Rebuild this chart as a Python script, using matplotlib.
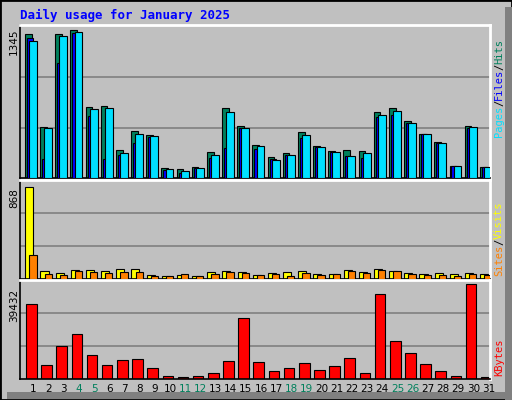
import matplotlib
matplotlib.use("Agg")
import matplotlib.pyplot as plt
from matplotlib.patches import Rectangle
import numpy as np

days = list(range(1, 32))
hits  = [1280,455,1280,1315,634,643,248,419,383,87,78,99,230,625,463,293,189,224,404,287,242,251,242,583,619,502,395,323,108,466,99]
files = [1240,173,1025,1290,553,173,206,314,368,75,42,90,177,269,440,257,168,204,359,272,227,197,177,538,562,484,392,311,105,448,96]
pages = [1220,440,1264,1300,610,625,224,395,374,78,60,87,204,589,445,284,159,204,383,275,230,194,221,562,598,490,392,311,105,457,96]
visits = [868,72,53,88,88,72,97,97,34,31,34,31,63,72,63,41,53,63,78,44,44,81,63,97,78,53,44,53,44,53,44]
sites  = [222,50,41,72,63,53,63,63,31,31,44,31,44,69,56,41,44,31,53,34,44,75,53,81,72,44,34,34,25,44,34]
kbytes = [31230,5760,13530,18710,10070,5760,7910,8350,4460,1440,720,1440,2300,7480,25180,7050,3170,4460,6620,3600,5320,8780,2300,35110,15690,10940,6190,3170,1440,39432,1010]
weekend = [4,5,11,12,18,19,25,26]
title = "Daily usage for January 2025"
max_hits, max_visits, max_kb = 1345, 868, 39432

BG = "#C0C0C0"
fig = plt.figure(figsize=(5.12, 4.0), dpi=100, facecolor=BG)
# frame & shadow
fig.patches.append(Rectangle((0, 0), 1, 1, transform=fig.transFigure, fill=False, ec="black", lw=2))
fig.patches.append(Rectangle((1-7/512, 0), 7/512, 1-7/400, transform=fig.transFigure, fc="#808080", ec="none"))
fig.patches.append(Rectangle((7/512, 0.003), 1-7/512, 7/400, transform=fig.transFigure, fc="#808080", ec="none"))
fig.text(20/512, 1-15/400, title, color="#0000FF", fontsize=9, fontweight="bold",
         family="DejaVu Sans Mono", va="center", ha="left")

L, W = 20/512, 470/512
def mkax(top, bot):
    ax = fig.add_axes([L, 1-bot/400, W, (bot-top)/400])
    ax.set_facecolor(BG)
    ax.set_xlim(0.3, 31.3)
    ax.set_xticks([]); ax.set_yticks([])
    for s in ax.spines.values():
        s.set_color("black"); s.set_linewidth(1.2)
    ax.spines["top"].set_color("white"); ax.spines["right"].set_color("white")
    ax.spines["top"].set_linewidth(2); ax.spines["right"].set_linewidth(2)
    return ax

d = np.array(days)
ax1 = mkax(25, 178)
ax1.set_ylim(0, max_hits * 1.01)
for g in (max_hits/3, 2*max_hits/3):
    ax1.axhline(g, color="#808080", lw=1.2, zorder=0)
ax1.bar(d-0.37, hits, width=0.44, align="edge", color="#00805C", ec="black", lw=0.8, zorder=2)
ax1.bar(d-0.24, files, width=0.40, align="edge", color="#0000FF", ec="black", lw=0.8, zorder=3)
ax1.bar(d-0.10, pages, width=0.52, align="edge", color="#00E0FF", ec="black", lw=0.8, zorder=4)

ax2 = mkax(180, 279)
ax2.set_ylim(0, max_visits/0.93)
for g in (max_visits/0.93/3, 2*max_visits/0.93/3):
    ax2.axhline(g, color="#808080", lw=1.2, zorder=0)
ax2.bar(d-0.35, visits, width=0.53, align="edge", color="#FFFF00", ec="black", lw=0.8, zorder=2)
ax2.bar(d-0.08, sites, width=0.48, align="edge", color="#FF8000", ec="black", lw=0.8, zorder=3)

ax3 = mkax(280, 379)
ax3.set_ylim(0, max_kb*1.04)
for g in (max_kb*1.04/3, 2*max_kb*1.04/3):
    ax3.axhline(g, color="#808080", lw=1.2, zorder=0)
ax3.bar(d-0.30, kbytes, width=0.70, align="edge", color="#FF0000", ec="black", lw=0.8, zorder=2)

for i in days:
    x = (20 + (i-0.3)*470/31 + 3) / 512
    fig.text(x, 1-389/400, str(i), ha="center", va="center", fontsize=7.5,
             color="#00805C" if i in weekend else "black", family="DejaVu Sans")

fig.text(14/512, 1-42/400, str(max_hits), rotation=90, ha="center", va="center", fontsize=7.5)
fig.text(14/512, 1-198/400, str(max_visits), rotation=90, ha="center", va="center", fontsize=7.5)
fig.text(14/512, 1-305/400, str(max_kb), rotation=90, ha="center", va="center", fontsize=7.5)

def vlabel(parts, ybot):
    y = ybot
    for txt, col in parts:
        t = fig.text(499/512, y, txt, rotation=90, ha="center", va="bottom", color=col,
                     fontsize=7.5, family="DejaVu Sans Mono")
        y += len(txt) * 0.0153
vlabel([("Pages", "#00E0FF"), ("/", "black"), ("Files", "#0000FF"), ("/", "black"), ("Hits", "#00805C")], 1-137/400)
vlabel([("Sites", "#FF8000"), ("/", "black"), ("Visits", "#FFFF00")], 1-276/400)
vlabel([("KBytes", "#FF0000")], 1-376/400)

fig.savefig("out.png", dpi=100, facecolor=BG)
